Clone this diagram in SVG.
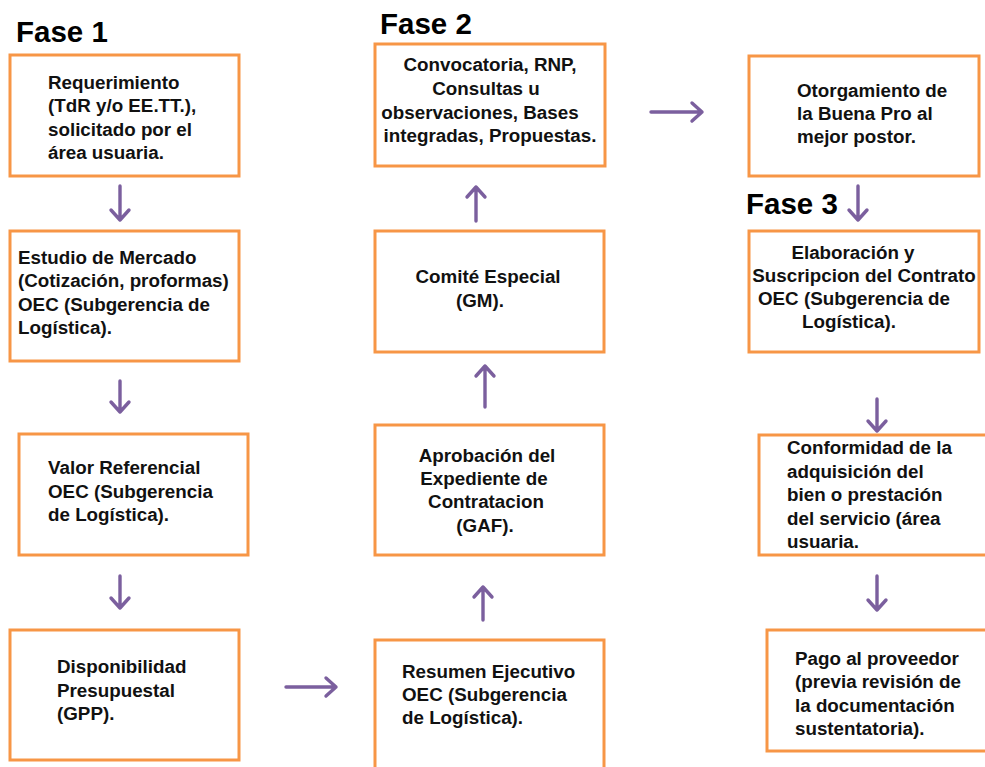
<svg xmlns="http://www.w3.org/2000/svg" width="985" height="767" viewBox="0 0 985 767">
<defs>
<style>
.box{fill:#fff;stroke:#F79646;stroke-width:3}
.t{font-family:"Liberation Sans",Arial,sans-serif;font-weight:bold;font-size:18.8px;fill:#111}
.c{text-anchor:middle}
.ph{font-family:"Liberation Sans",Arial,sans-serif;font-weight:bold;font-size:29.5px;fill:#000}
.ar{fill:none;stroke:#7B5F9E;stroke-width:3.4;stroke-linecap:round;stroke-linejoin:round}
</style>
</defs>
<rect width="985" height="767" fill="#fff"/>
<text class="ph" x="16" y="42">Fase 1</text>
<text class="ph" x="380" y="34">Fase 2</text>
<text class="ph" x="746" y="214">Fase 3</text>

<g id="n1"><rect class="box" x="10" y="55" width="229" height="121"/>
<text class="t" x="48" y="89">Requerimiento</text>
<text class="t" x="48" y="112">(TdR y/o EE.TT.),</text>
<text class="t" x="48" y="136">solicitado por el</text>
<text class="t" x="48" y="159">área usuaria.</text></g>

<g id="n2"><rect class="box" x="10" y="231" width="229" height="130"/>
<text class="t" x="18" y="264">Estudio de Mercado</text>
<text class="t" x="18" y="287">(Cotización, proformas)</text>
<text class="t" x="18" y="311">OEC (Subgerencia de</text>
<text class="t" x="18" y="334">Logística).</text></g>

<g id="n3"><rect class="box" x="19" y="434" width="229" height="121"/>
<text class="t" x="48" y="474">Valor Referencial</text>
<text class="t" x="48" y="498">OEC (Subgerencia</text>
<text class="t" x="48" y="521">de Logística).</text></g>

<g id="n4"><rect class="box" x="10" y="630" width="229" height="130"/>
<text class="t" x="57" y="673">Disponibilidad</text>
<text class="t" x="57" y="697">Presupuestal</text>
<text class="t" x="57" y="720">(GPP).</text></g>

<g id="n5"><rect class="box" x="375" y="640" width="229" height="140"/>
<text class="t" x="402" y="678">Resumen Ejecutivo</text>
<text class="t" x="402" y="701">OEC (Subgerencia</text>
<text class="t" x="402" y="724">de Logística).</text></g>

<g id="n6"><rect class="box" x="375" y="425" width="229" height="130"/>
<text class="t c" x="487" y="462">Aprobación del</text>
<text class="t c" x="484" y="485">Expediente de</text>
<text class="t c" x="486" y="508">Contratacion</text>
<text class="t c" x="485" y="532">(GAF).</text></g>

<g id="n7"><rect class="box" x="375" y="231" width="229" height="121"/>
<text class="t c" x="488" y="283">Comité Especial</text>
<text class="t c" x="480" y="307">(GM).</text></g>

<g id="n8"><rect class="box" x="375" y="44" width="230" height="122"/>
<text class="t c" x="490" y="71">Convocatoria, RNP,</text>
<text class="t c" x="486" y="95">Consultas u</text>
<text class="t c" x="480" y="119">observaciones, Bases</text>
<text class="t c" x="490" y="142">integradas, Propuestas.</text></g>

<g id="n9"><rect class="box" x="749" y="56" width="230" height="120"/>
<text class="t" x="797" y="97">Otorgamiento de</text>
<text class="t" x="797" y="120">la Buena Pro al</text>
<text class="t" x="797" y="143">mejor postor.</text></g>

<g id="n10"><rect class="box" x="749" y="231" width="230" height="121"/>
<text class="t c" x="853" y="259">Elaboración y</text>
<text class="t c" x="864" y="282">Suscripcion del Contrato</text>
<text class="t c" x="854" y="305">OEC (Subgerencia de</text>
<text class="t c" x="849" y="328">Logística).</text></g>

<g id="n11"><rect class="box" x="759" y="435" width="240" height="120"/>
<text class="t" x="787" y="454">Conformidad de la</text>
<text class="t" x="787" y="478">adquisición del</text>
<text class="t" x="787" y="501">bien o prestación</text>
<text class="t" x="787" y="525">del servicio (área</text>
<text class="t" x="787" y="548">usuaria.</text></g>

<g id="n12"><rect class="box" x="767" y="630" width="240" height="121"/>
<text class="t" x="795" y="665">Pago al proveedor</text>
<text class="t" x="795" y="688">(previa revisión de</text>
<text class="t" x="795" y="712">la documentación</text>
<text class="t" x="795" y="735">sustentatoria).</text></g>

<g id="connectors">
<path class="ar" d="M120 186V220M111 210L120 220L129 210"/>
<path class="ar" d="M120 381V412M111 402L120 412L129 402"/>
<path class="ar" d="M120 576V608M111 598L120 608L129 598"/>
<path class="ar" d="M286 687H336M326 678L336 687L326 696"/>
<path class="ar" d="M483 620V587M474 597L483 587L492 597"/>
<path class="ar" d="M485 407V366M476 376L485 366L494 376"/>
<path class="ar" d="M476 221V187M467 197L476 187L485 197"/>
<path class="ar" d="M651 112H702M692 103L702 112L692 121"/>
<path class="ar" d="M858 186V220M849 210L858 220L867 210"/>
<path class="ar" d="M877 399V431M868 421L877 431L886 421"/>
<path class="ar" d="M877 576V610M868 600L877 610L886 600"/>
</g>
</svg>
